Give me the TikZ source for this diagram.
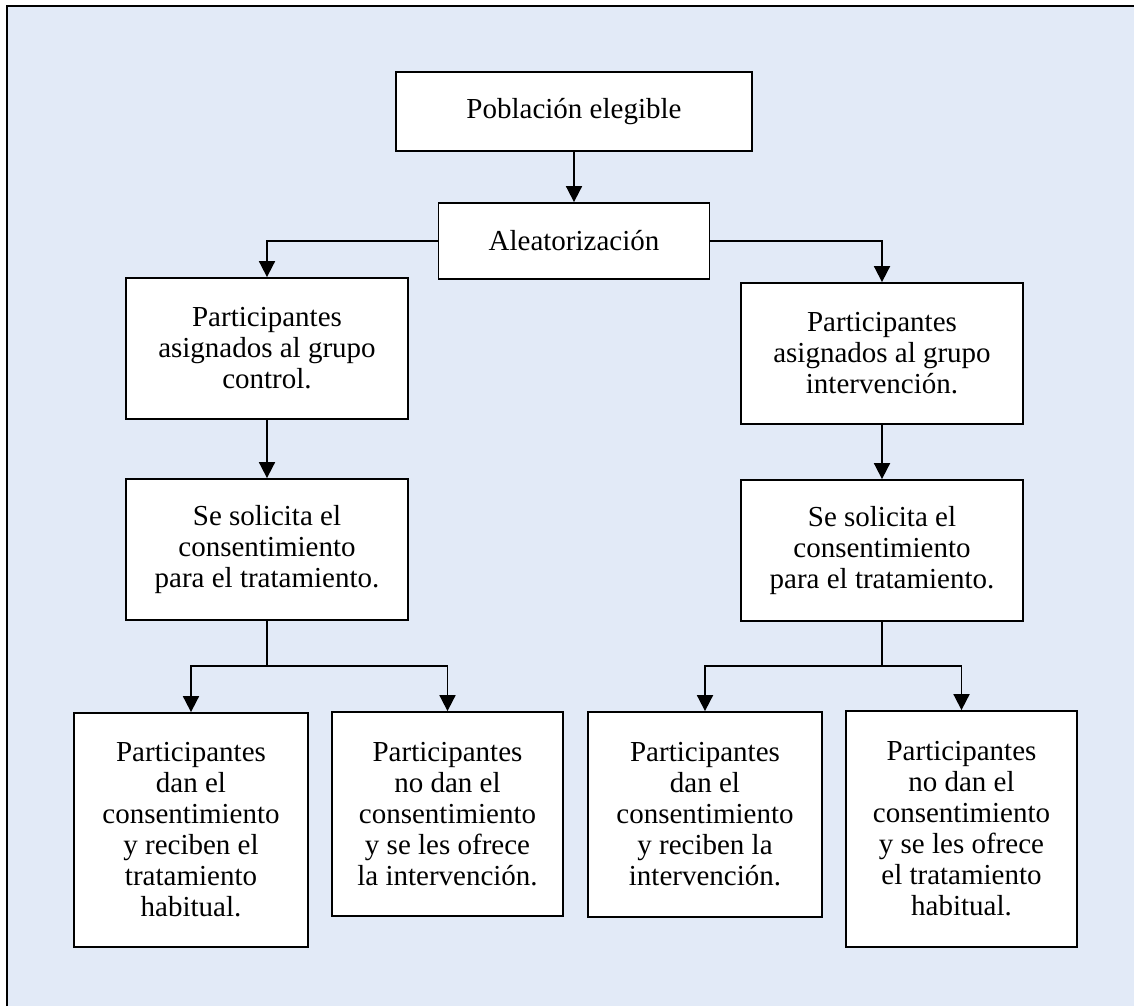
\documentclass[tikz,border=0pt]{standalone}
\usepackage{fontspec}
\setmainfont{Liberation Serif}
\usetikzlibrary{arrows.meta}
\definecolor{bgblue}{RGB}{226,234,247}
\tikzset{
  box/.style={draw=black, line width=1.8pt, fill=white, align=center, inner sep=0pt,
    font=\fontsize{29}{31}\selectfont},
  link/.style={line width=1.8pt, draw=black},
  conn/.style={link, -{Triangle[length=16pt,width=16pt]}},
}
\begin{document}
\begin{tikzpicture}[x=1pt,y=-1pt]
\useasboundingbox (0,0) rectangle (1134,1006);
\fill[white] (0,0) rectangle (1134,1006);
\fill[bgblue] (7,6) rectangle (1134,1006);
\draw[line width=1.8pt] (7,1006) -- (7,6) -- (1134,6);

\node[box, minimum width=356pt, minimum height=79pt] (pob) at (574,111.5) {Población elegible};
\node[box, minimum width=271pt, minimum height=76pt] (ale) at (574,241) {Aleatorización};
\node[box, minimum width=282pt, minimum height=141pt] (ctrl) at (267,348.5) {Participantes\\asignados al grupo\\control.};
\node[box, minimum width=282pt, minimum height=141pt] (intv) at (882,353.5) {Participantes\\asignados al grupo\\intervención.};
\node[box, minimum width=282pt, minimum height=141pt] (solL) at (267,549.5) {Se solicita el\\consentimiento\\para el tratamiento.};
\node[box, minimum width=282pt, minimum height=141pt] (solR) at (882,550.5) {Se solicita el\\consentimiento\\para el tratamiento.};
\node[box, minimum width=234pt, minimum height=234pt] (LL) at (191,830) {Participantes\\dan el\\consentimiento\\y reciben el\\tratamiento\\habitual.};
\node[box, minimum width=231pt, minimum height=204pt] (LR) at (447.5,814) {Participantes\\no dan el\\consentimiento\\y se les ofrece\\la intervención.};
\node[box, minimum width=234pt, minimum height=205pt] (RL) at (705,814.5) {Participantes\\dan el\\consentimiento\\y reciben la\\intervención.};
\node[box, minimum width=231pt, minimum height=236pt] (RR) at (961.5,829) {Participantes\\no dan el\\consentimiento\\y se les ofrece\\el tratamiento\\habitual.};

\coordinate (jL) at (267,666);
\coordinate (jR) at (882,666);

\draw[conn] (pob.south) -- (ale.north);
\draw[conn] (ale.west) -| (ctrl.north);
\draw[conn] (ale.east) -| (intv.north);
\draw[conn] (ctrl.south) -- (solL.north);
\draw[conn] (intv.south) -- (solR.north);
\draw[link] (solL.south) -- (jL);
\draw[link] (solR.south) -- (jR);
\draw[conn] (jL) -| (LL.north);
\draw[conn] (jL) -| (LR.north);
\draw[conn] (jR) -| (RL.north);
\draw[conn] (jR) -| (RR.north);
\end{tikzpicture}
\end{document}
